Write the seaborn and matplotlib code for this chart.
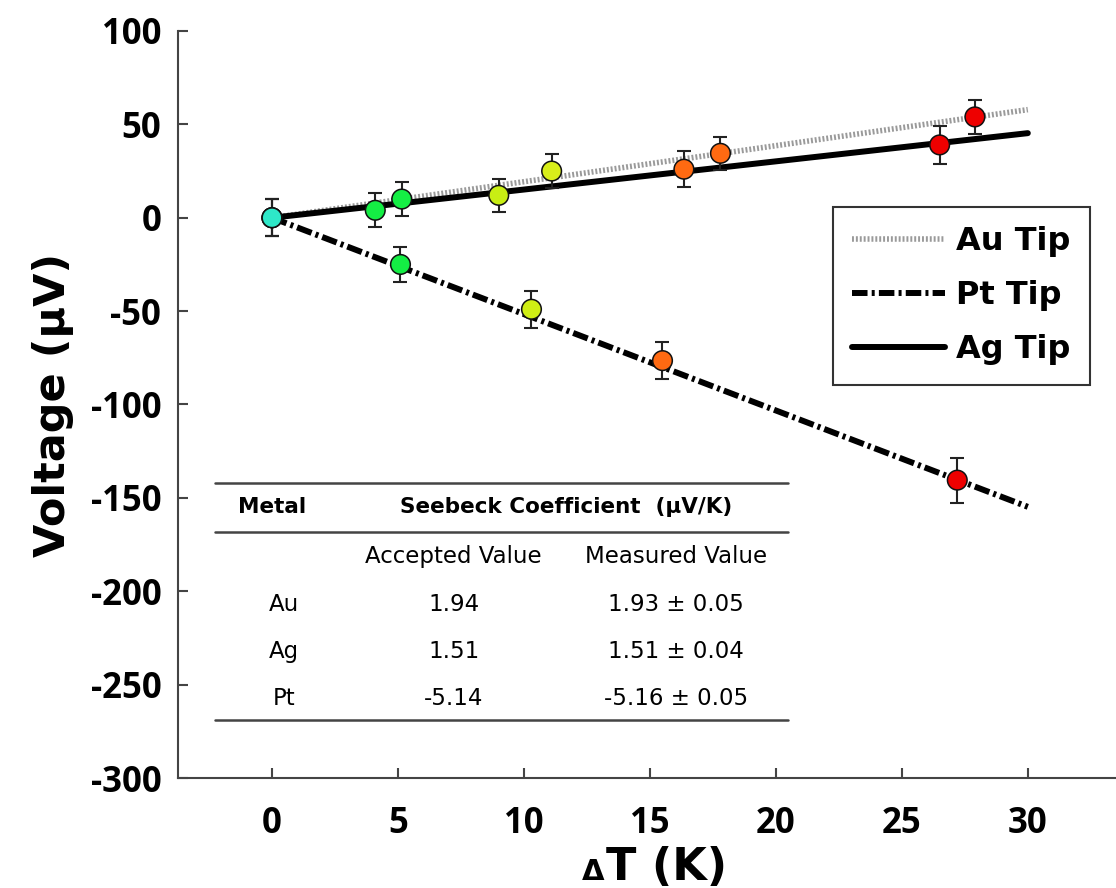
import numpy as np
import pandas as pd
import matplotlib.pyplot as plt
import seaborn as sns

# --- datos ---
au_dt = [0, 5.15, 11.1, 17.8, 27.9]
au_v = [0, 10, 25, 34.5, 54]
au_err = [10, 9, 9, 9, 9]
au_col = ["#2ee8c8", "#14ee44", "#d8ee1a", "#ff6a12", "#ee0000"]

ag_dt = [0, 4.1, 9.0, 16.35, 26.5]
ag_v = [0, 4, 12, 26, 39]
ag_err = [10, 9, 9, 9.5, 10]
ag_col = ["#2ee8c8", "#14ee44", "#c8ee14", "#ff6a12", "#ee0000"]

pt_dt = [0, 5.1, 10.3, 15.5, 27.2]
pt_v = [0, -25, -49, -76.5, -140.5]
pt_err = [10, 9.5, 10, 10, 12]
pt_col = ["#2ee8c8", "#14ee44", "#d0ee14", "#ff6a12", "#ee0000"]

# pendientes medidas (uV/K)
slope_au = 1.93
slope_ag = 1.51
slope_pt = -5.16
fit_range = [0, 30]

metals = ["Au", "Ag", "Pt"]
accepted = ["1.94", "1.51", "-5.14"]
measured = ["1.93 \u00b1 0.05", "1.51 \u00b1 0.04", "-5.16 \u00b1 0.05"]

sns.set_style("ticks")
plt.rcParams["font.family"] = ["DejaVu Sans"]
plt.rcParams["axes.unicode_minus"] = False
plt.rcParams["text.color"] = "black"
plt.rcParams["axes.labelcolor"] = "black"

fig = plt.figure(figsize=(11.16, 8.88), dpi=100)
ax = fig.add_axes([178 / 1116, 1 - 778 / 888, 938 / 1116, 747 / 888])

# --- rectas de ajuste ---
xs = np.array(fit_range, dtype=float)
sns.lineplot(x=xs, y=slope_au * xs, ax=ax, color="#9a9a9a", lw=4,
             label="Au Tip", zorder=2)
ax.lines[-1].set_linestyle((0, (0.35, 0.35)))
sns.lineplot(x=xs, y=slope_pt * xs, ax=ax, color="black", lw=4.3,
             label="Pt Tip", zorder=2)
ax.lines[-1].set_linestyle((0, (2.6, 0.7, 0.5, 0.7)))
sns.lineplot(x=xs, y=slope_ag * xs, ax=ax, color="black", lw=4.3,
             label="Ag Tip", zorder=3)

# --- puntos con barras de error ---
for dt, v, err, col in [(au_dt, au_v, au_err, au_col),
                        (ag_dt, ag_v, ag_err, ag_col),
                        (pt_dt, pt_v, pt_err, pt_col)]:
    ax.errorbar(dt, v, yerr=err, fmt="none", ecolor="#222222",
                elinewidth=1.5, capsize=5, capthick=1.5, zorder=4)
    df = pd.DataFrame({"dt": dt, "v": v})
    sns.scatterplot(data=df, x="dt", y="v", ax=ax, color=col, s=200,
                    edgecolor="#111111", linewidth=1.1, zorder=5, legend=False)

ax.set_xlim(-3.73, 33.5)
ax.set_ylim(-300, 100)
ax.set_xticks([0, 5, 10, 15, 20, 25, 30])
ax.set_yticks([-300, -250, -200, -150, -100, -50, 0, 50, 100])
ax.tick_params(direction="in", length=7, width=1.5, color="#444444",
               labelsize=25, labelcolor="black")
ax.tick_params(axis="x", pad=20)
ax.tick_params(axis="y", pad=12)
for lab in ax.get_xticklabels() + ax.get_yticklabels():
    lab.set_fontfamily("Open Sans")
    lab.set_fontweight("bold")
for s in ["top", "right"]:
    ax.spines[s].set_visible(False)
for s in ["left", "bottom"]:
    ax.spines[s].set_color("#444444")
    ax.spines[s].set_linewidth(1.5)

ax.set_xlabel("")
ax.set_ylabel("Voltage (\u00b5V)", fontsize=31, fontweight="bold", labelpad=12)
fig.text(606 / 1116, 1 - 880 / 888, "T (K)", fontsize=32, fontweight="bold",
         ha="left", va="baseline")
fig.text(604 / 1116, 1 - 880 / 888, "\u0394", fontsize=21, fontweight="bold",
         ha="right", va="baseline")

leg = ax.legend(loc="upper right", bbox_to_anchor=(0.972, 0.764),
                borderaxespad=0, fontsize=23, frameon=True, fancybox=False,
                handlelength=2.9, handletextpad=0.35, borderpad=0.6,
                labelspacing=0.72)
leg.get_frame().set_edgecolor("black")
leg.get_frame().set_linewidth(1.5)
for t in leg.get_texts():
    t.set_fontweight("bold")

# --- tabla insertada ---
tr = ax.transAxes
for y in [0.395, 0.329, 0.0776]:
    ax.plot([0.039, 0.650], [y, y], transform=tr, color="#444444", lw=1.8,
            zorder=6)
ax.text(0.1002, 0.363, "Metal", transform=tr, ha="center", va="center",
        fontsize=15.5, fontweight="bold")
ax.text(0.4136, 0.363, "Seebeck Coefficient  (\u00b5V/K)", transform=tr,
        ha="center", va="center", fontsize=15.5, fontweight="bold")
ax.text(0.294, 0.296, "Accepted Value", transform=tr, ha="center",
        va="center", fontsize=16.5)
ax.text(0.531, 0.296, "Measured Value", transform=tr, ha="center",
        va="center", fontsize=16.5)
for i, (m, a, me) in enumerate(zip(metals, accepted, measured)):
    y = 0.2316 - i * 0.0623
    ax.text(0.113, y, m, transform=tr, ha="center", va="center", fontsize=16.5)
    ax.text(0.294, y, a, transform=tr, ha="center", va="center", fontsize=16.5)
    ax.text(0.531, y, me, transform=tr, ha="center", va="center", fontsize=16.5)

fig.savefig("out.png", dpi=100)
